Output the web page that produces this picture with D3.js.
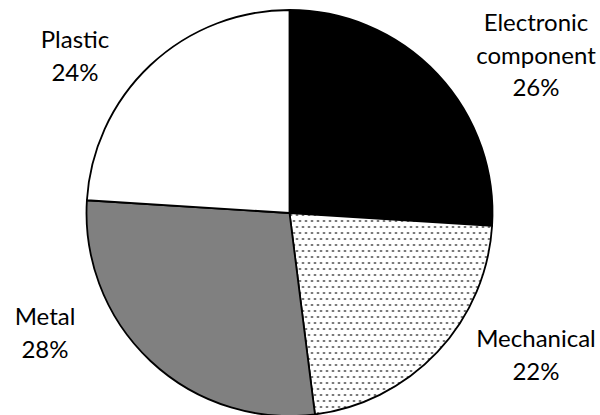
<!DOCTYPE html>
<html>
<head>
<meta charset="utf-8">
<script src="https://cdn.jsdelivr.net/npm/d3@7"></script>
<style>
  html, body { margin: 0; padding: 0; background: #fff; }
  svg { display: block; }
</style>
</head>
<body>
<svg id="pie"></svg>
<script>
const width = 600;
const height = 415;

// data, clockwise from 12 o'clock
const categories = ['Electronic component', 'Mechanical', 'Metal', 'Plastic'];
const shares = [26, 22, 28, 24];
const labelLines = [['Electronic', 'component', '26%'], ['Mechanical', '22%'], ['Metal', '28%'], ['Plastic', '24%']];

// layout
const cx = 289.5;
const cy = 213;
const radius = 203;
const lineHeight = 32.5;
// label anchors (centre x, first baseline y)
const labelPos = [[536, 31], [536, 347], [45, 325], [75, 48]];

const svg = d3.select('#pie')
  .attr('width', width)
  .attr('height', height);

// dotted fill for "Mechanical"
const pattern = svg.append('defs')
  .append('pattern')
  .attr('id', 'dots')
  .attr('patternUnits', 'userSpaceOnUse')
  .attr('width', 6)
  .attr('height', 12);
pattern.append('rect').attr('width', 6).attr('height', 12).attr('fill', '#fff');
pattern.append('circle').attr('cx', 1.5).attr('cy', 2).attr('r', 1).attr('fill', '#222');
pattern.append('circle').attr('cx', 4.5).attr('cy', 8).attr('r', 1).attr('fill', '#222');

const colorScale = d3.scaleOrdinal()
  .domain(categories)
  .range(['#000000', 'url(#dots)', '#808080', '#ffffff']);

const arcs = d3.pie()
  .value(d => d.value)
  .sort(null);

const path = d3.arc()
  .outerRadius(radius)
  .innerRadius(0);

const rows = categories.map((c, i) => ({ name: c, value: shares[i] }));

svg.append('g')
  .attr('transform', `translate(${cx}, ${cy})`)
  .selectAll('.arc')
  .data(arcs(rows))
  .enter()
  .append('path')
    .classed('arc', true)
    .attr('fill', d => colorScale(d.data.name))
    .attr('stroke', '#000')
    .attr('stroke-width', 1.8)
    .attr('stroke-linejoin', 'round')
    .attr('d', path);

// labels
const labels = svg.append('g')
  .selectAll('text')
  .data(labelLines)
  .enter()
  .append('text')
    .attr('text-anchor', 'middle')
    .attr('font-family', 'Lato, "Open Sans", sans-serif')
    .attr('font-size', '24px')
    .attr('fill', '#000')
    .attr('x', (d, i) => labelPos[i][0])
    .attr('y', (d, i) => labelPos[i][1]);

labels.selectAll('tspan')
  .data((d, i) => d.map(t => ({ t, x: labelPos[i][0] })))
  .enter()
  .append('tspan')
    .attr('x', d => d.x)
    .attr('dy', (d, j) => j === 0 ? 0 : lineHeight)
    .text(d => d.t);
</script>
</body>
</html>
